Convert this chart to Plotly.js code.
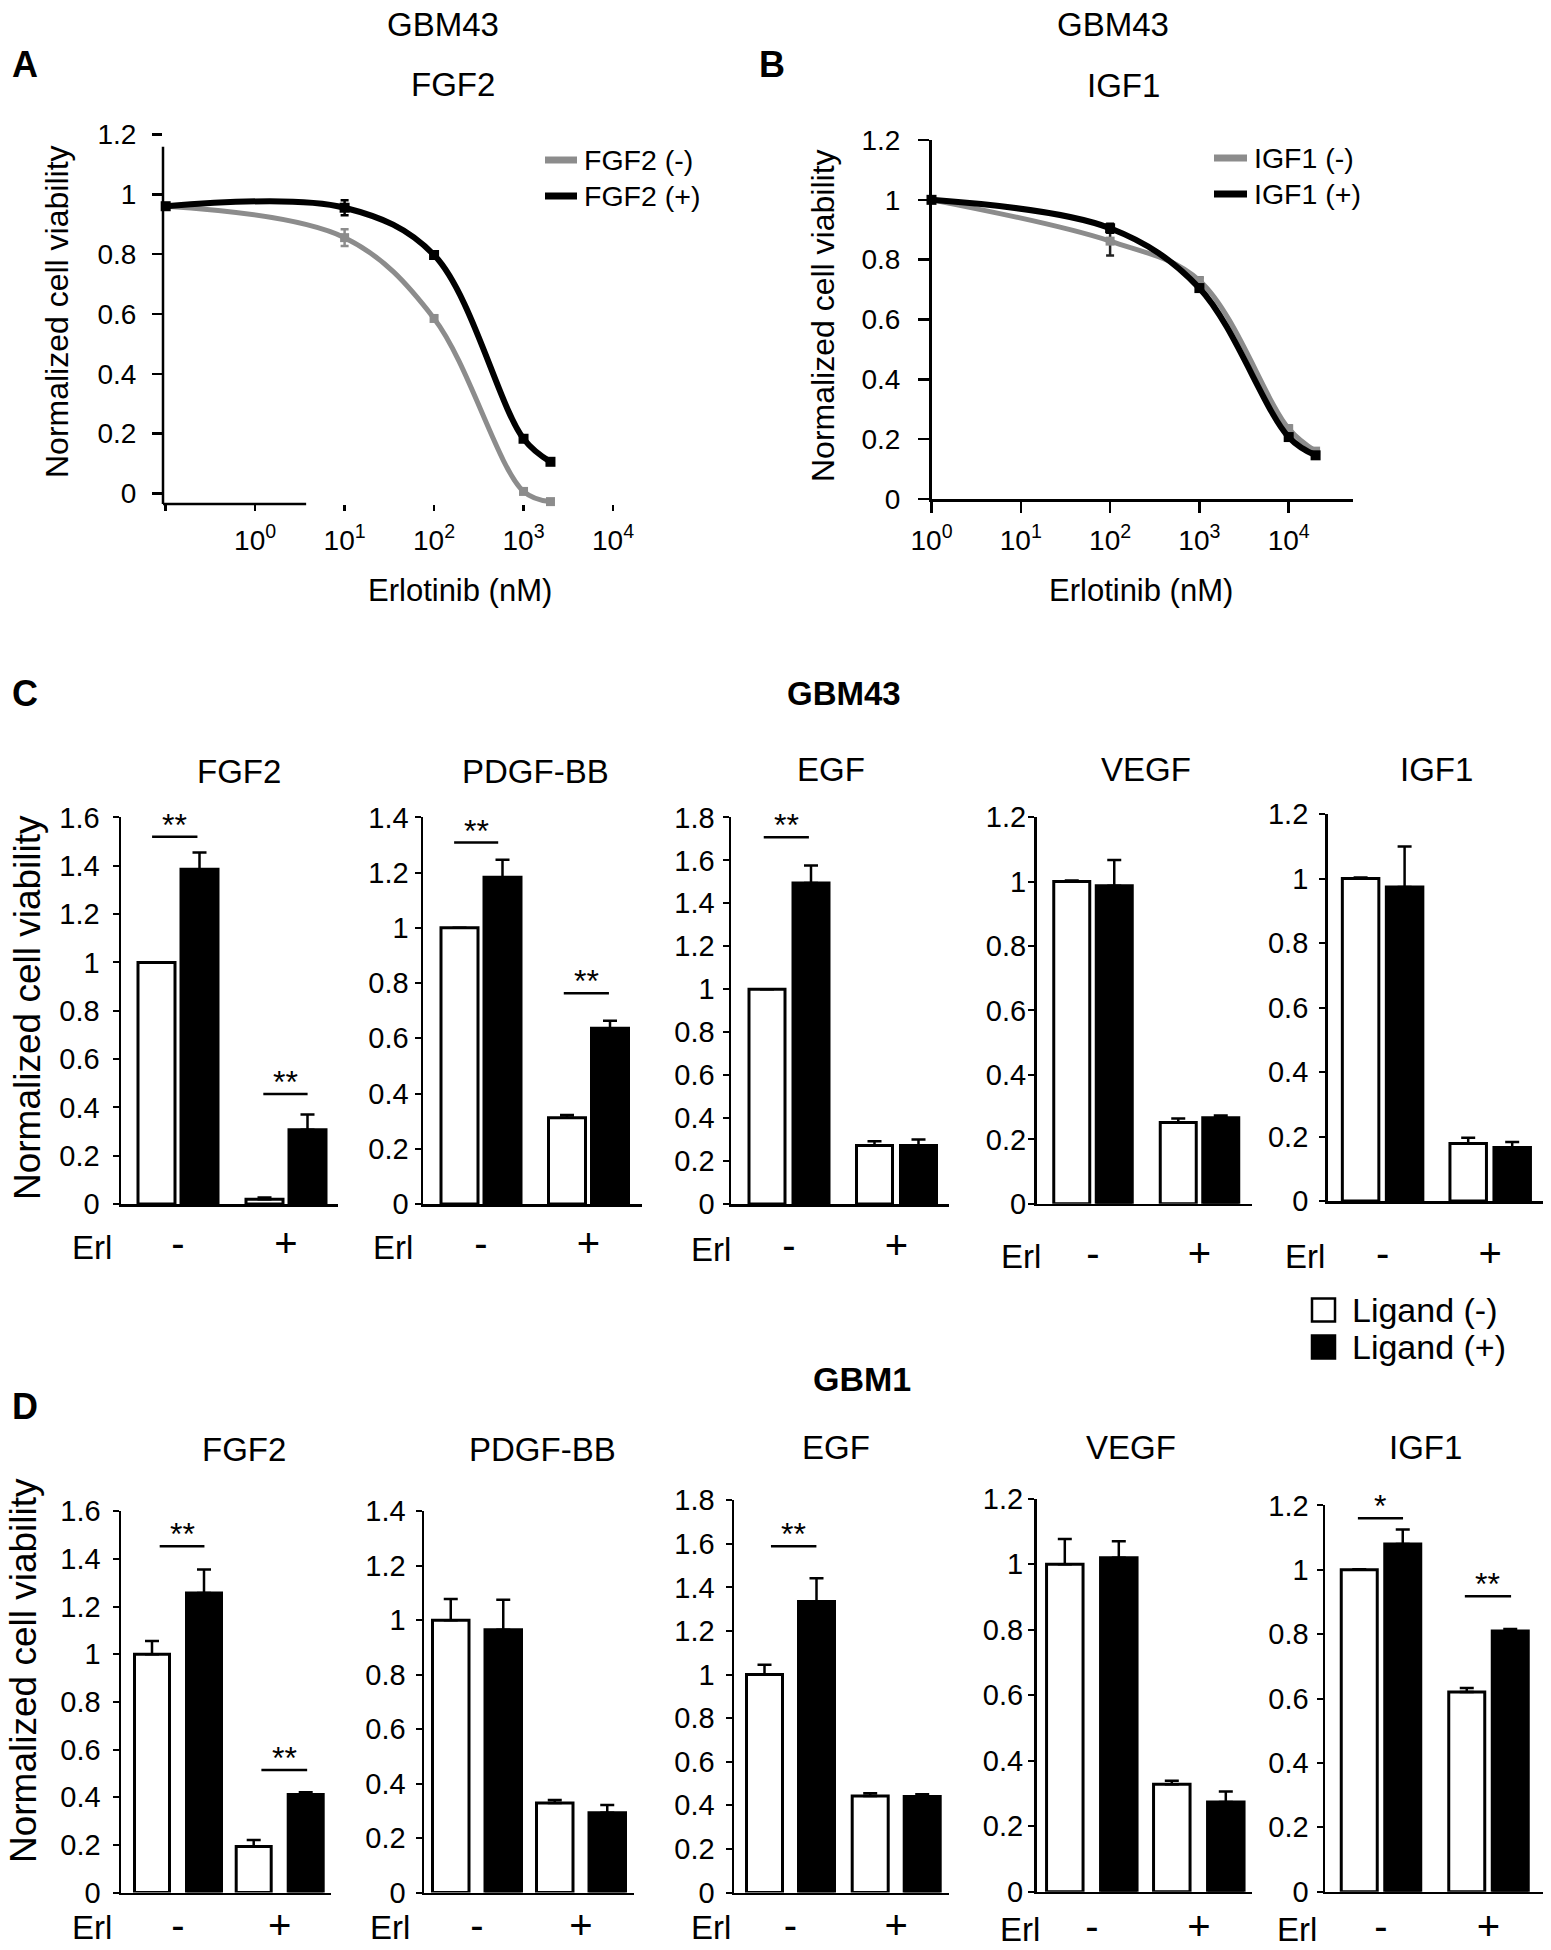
<!DOCTYPE html>
<html><head><meta charset="utf-8">
<script src="https://cdn.plot.ly/plotly-3.0.1.min.js"></script>
<style>html,body{margin:0;padding:0;background:#fff}#chart{width:1551px;height:1950px}</style>
</head><body><div id="chart"></div>
<script>
// ---------------- DATA ----------------
// Panel A: GBM43, FGF2, Erlotinib dose response
const doseA = [0.1, 10, 100, 1000, 2000];
const fgf2Minus = [0.96, 0.855, 0.585, 0.007, -0.027];
const fgf2MinusErr = [0.004, 0.028, 0.008, 0.008, 0.005];
const fgf2Plus = [0.96, 0.955, 0.797, 0.183, 0.106];
const fgf2PlusErr = [0.006, 0.025, 0.01, 0.01, 0.008];
// Panel B: GBM43, IGF1
const doseB = [1, 100, 1000, 10000, 20000];
const igf1Minus = [1.0, 0.862, 0.73, 0.235, 0.16];
const igf1MinusErr = [0.005, 0.048, 0.01, 0.01, 0.008];
const igf1Plus = [1.0, 0.905, 0.705, 0.207, 0.146];
const igf1PlusErr = [0.01, 0.015, 0.01, 0.01, 0.008];

// Panels C/D: ligands, Erl - / +
const ligands = ['FGF2', 'PDGF-BB', 'EGF', 'VEGF', 'IGF1'];
const erlLabels = ['-', '+'];
const yMaxByLigand = [1.6, 1.4, 1.8, 1.2, 1.2];
const yMaxGBM1 = [1.6, 1.4, 1.8, 1.2, 1.2];
// GBM43 (panel C)
const gbm43LigNegErlNeg = [1.0, 1.0, 1.0, 1.0, 1.0];
const gbm43LigNegErlNegErr = [0.0, 0.0, 0.0, 0.003, 0.003];
const gbm43LigPosErlNeg = [1.385, 1.183, 1.494, 0.987, 0.974];
const gbm43LigPosErlNegErr = [0.07, 0.064, 0.082, 0.08, 0.125];
const gbm43LigNegErlPos = [0.02, 0.312, 0.272, 0.252, 0.178];
const gbm43LigNegErlPosErr = [0.007, 0.01, 0.02, 0.013, 0.018];
const gbm43LigPosErlPos = [0.307, 0.636, 0.272, 0.267, 0.166];
const gbm43LigPosErlPosErr = [0.063, 0.028, 0.028, 0.007, 0.017];
// GBM1 (panel D)
const gbm1LigNegErlNeg = [1.0, 1.0, 1.0, 1.0, 1.0];
const gbm1LigNegErlNegErr = [0.055, 0.078, 0.045, 0.077, 0.002];
const gbm1LigPosErlNeg = [1.257, 0.965, 1.335, 1.02, 1.08];
const gbm1LigPosErlNegErr = [0.098, 0.11, 0.107, 0.05, 0.045];
const gbm1LigNegErlPos = [0.193, 0.329, 0.443, 0.328, 0.62];
const gbm1LigNegErlPosErr = [0.027, 0.011, 0.012, 0.011, 0.013];
const gbm1LigPosErlPos = [0.411, 0.293, 0.441, 0.274, 0.81];
const gbm1LigPosErlPosErr = [0.01, 0.028, 0.01, 0.032, 0.006];

// significance marks: panel index, group (0 = Erl -, 1 = Erl +), level, label
const sigC = [
  {p:0, g:0, y:1.52, t:'**', a:-0.24, b:0.18},
  {p:0, g:1, y:0.455, t:'**', a:-0.21, b:0.20},
  {p:1, g:0, y:1.309, t:'**', a:-0.25, b:0.16},
  {p:1, g:1, y:0.763, t:'**', a:-0.23, b:0.19},
  {p:2, g:0, y:1.708, t:'**', a:-0.235, b:0.185}
];
const sigD = [
  {p:0, g:0, y:1.453, t:'**', a:-0.18, b:0.26},
  {p:0, g:1, y:0.514, t:'**', a:-0.18, b:0.27},
  {p:2, g:0, y:1.589, t:'**', a:-0.185, b:0.245},
  {p:4, g:0, y:1.16, t:'*', a:-0.215, b:0.205},
  {p:4, g:1, y:0.918, t:'**', a:-0.22, b:0.21}
];

// ---------------- LAYOUT GEOMETRY (pixels) ----------------
const W = 1551, H = 1950;
const px = v => v / W;
const py = v => 1 - v / H;
const FONT = 'Liberation Sans, Arial, sans-serif';
const GREY = '#8c8c8c';
const geomC = [
  {L:121, R:338, top:817.4, bot:1204, c0:178, c1:286, w:37, g:6, lg:17, xs:2},
  {L:423, R:642, top:817.4, bot:1204, c0:481, c1:588.5, w:37, g:6, lg:10, xs:2},
  {L:731, R:949, top:817.4, bot:1204, c0:789, c1:896.5, w:36, g:8, lg:12, xs:4},
  {L:1036.5, R:1252, top:817.1, bot:1203.8, c0:1093, c1:1199.5, w:36, g:6.5, lg:6, xs:13},
  {L:1327.6, R:1543, top:814, bot:1201, c0:1382.6, c1:1490.2, w:36.5, g:7.5, lg:15, xs:15}
];
const geomD = [
  {L:121, R:331, top:1511.2, bot:1892.5, c0:178, c1:279.7, w:35, g:17, lg:16, xs:-4},
  {L:424, R:634, top:1511.2, bot:1892.5, c0:477, c1:581, w:36.5, g:16, lg:14, xs:-4},
  {L:734, R:949, top:1500.3, bot:1892.5, c0:790.5, c1:896.2, w:36, g:16, lg:15, xs:-4},
  {L:1036.5, R:1252, top:1498.8, bot:1891.7, c0:1091.8, c1:1198.8, w:36.5, g:17.5, lg:9, xs:-2},
  {L:1325, R:1543, top:1505.4, bot:1891.7, c0:1381, c1:1488.5, w:36, g:7.5, lg:12, xs:-2}
];
const titleC = [[239,771],[535,771],[830.6,769],[1146,769],[1436,769]];
const titleD = [[244,1449],[542,1449],[835.7,1447],[1131,1447],[1425,1447]];
const erlC = [[92,1247],[393,1247],[711,1249],[1021,1256],[1305,1256]];
const erlD = [[92,1927],[390,1927],[711,1927],[1020,1929],[1297,1929]];

const traces = [];
const shapes = [];
const annotations = [];
const layout = {
  width: W, height: H, margin: {l:0, r:0, t:0, b:0},
  paper_bgcolor: '#fff', plot_bgcolor: 'rgba(0,0,0,0)',
  showlegend: false, barmode: 'overlay',
  font: {family: FONT, color: '#000', size: 28}
};

function ann(text, x, y, size, opts) {
  annotations.push(Object.assign({text: text, x: px(x), y: py(y), xref: 'paper', yref: 'paper',
    xanchor: 'center', yanchor: 'middle', showarrow: false, font: {size: size, family: FONT, color: '#000'}}, opts || {}));
}

// ---------------- Panel A ----------------
function sup(v){ return '10<sup>' + v + '</sup>'; }
const yTicksAB = [0, 0.2, 0.4, 0.6, 0.8, 1, 1.2];
traces.push({type:'scatter', mode:'lines+markers', x: doseA, y: fgf2Minus, xaxis:'x', yaxis:'y', name:'FGF2 (-)',
  line:{color:GREY, width:5, shape:'spline', smoothing:1}, marker:{symbol:'square', size:9, color:GREY},
  error_y:{type:'data', array: fgf2MinusErr, color:GREY, thickness:2.5, width:4}, cliponaxis:false});
traces.push({type:'scatter', mode:'lines+markers', x: doseA, y: fgf2Plus, xaxis:'x', yaxis:'y', name:'FGF2 (+)',
  line:{color:'#000', width:6, shape:'spline', smoothing:1}, marker:{symbol:'square', size:10, color:'#000'},
  error_y:{type:'data', array: fgf2PlusErr, color:'#000', thickness:2.5, width:4}, cliponaxis:false});
layout.xaxis = {domain:[px(163), px(613)], range:[-1.03, 4.0], type:'log', anchor:'y', showline:false,
  ticks:'outside', ticklen:6, tickwidth:2.5, tickcolor:'#000', tickvals:[0.1,1,10,100,1000,10000],
  ticktext:['', sup(0), sup(1), sup(2), sup(3), sup(4)], tickfont:{size:28}, showgrid:false, zeroline:false,
  ticklabelstandoff: 5, fixedrange:true};
layout.yaxis = {domain:[py(504), py(134.4)], range:[-0.035, 1.2], anchor:'x', showline:false,
  ticks:'outside', ticklen:10, tickwidth:2.5, tickcolor:'#000', tickvals: yTicksAB, tickfont:{size:28},
  showgrid:false, zeroline:false, ticklabelstandoff: 10, fixedrange:true};
shapes.push({type:'line', xref:'x', yref:'y domain', x0:-1.03, x1:3.715, y0:0, y1:0, line:{color:'#000', width:2.5}});
shapes.push({type:'line', xref:'x domain', yref:'y', x0:0, x1:0, y0:-0.035, y1:1.159, line:{color:'#000', width:2.5}});

// ---------------- Panel B ----------------
traces.push({type:'scatter', mode:'lines+markers', x: doseB, y: igf1Minus, xaxis:'x2', yaxis:'y2', name:'IGF1 (-)',
  line:{color:GREY, width:5, shape:'spline', smoothing:1}, marker:{symbol:'square', size:9, color:GREY},
  error_y:{type:'data', array: igf1MinusErr, color:'#222', thickness:2.5, width:4}, cliponaxis:false});
traces.push({type:'scatter', mode:'lines+markers', x: doseB, y: igf1Plus, xaxis:'x2', yaxis:'y2', name:'IGF1 (+)',
  line:{color:'#000', width:6, shape:'spline', smoothing:1}, marker:{symbol:'square', size:10, color:'#000'},
  error_y:{type:'data', array: igf1PlusErr, color:'#000', thickness:2.5, width:4}, cliponaxis:false});
layout.xaxis2 = {domain:[px(931.5), px(1353)], range:[0, 4.72], type:'log', anchor:'y2', showline:true, linewidth:2.5, linecolor:'#000',
  ticks:'outside', ticklen:11, tickwidth:2.5, tickcolor:'#000', tickvals:[1,10,100,1000,10000],
  ticktext:[sup(0), sup(1), sup(2), sup(3), sup(4)], tickfont:{size:28}, showgrid:false, zeroline:false,
  ticklabelstandoff: 4, fixedrange:true};
layout.yaxis2 = {domain:[py(499), py(140)], range:[0, 1.2], anchor:'x2', showline:true, linewidth:2.5, linecolor:'#000',
  ticks:'outside', ticklen:11, tickwidth:2.5, tickcolor:'#000', tickvals: yTicksAB, tickfont:{size:28},
  showgrid:false, zeroline:false, ticklabelstandoff: 12, fixedrange:true};

// A/B texts
ann('<b>A</b>', 25, 65, 36);
ann('<b>B</b>', 772, 65, 36);
ann('GBM43', 443, 24, 33);
ann('FGF2', 453, 85, 33);
ann('GBM43', 1113, 24, 33);
ann('IGF1', 1123, 86, 33);
ann('Erlotinib (nM)', 460, 591, 31);
ann('Erlotinib (nM)', 1141, 591, 31);
ann('Normalized cell viability', 57, 312, 32, {textangle:-90});
ann('Normalized cell viability', 823, 316, 32, {textangle:-90});
// line legends
function lineLegend(x0, x1, y, color, text) {
  shapes.push({type:'line', xref:'paper', yref:'paper', x0:px(x0), x1:px(x1), y0:py(y), y1:py(y), line:{color:color, width:7}});
  ann(text, x1 + 5, y, 28.5, {xanchor:'left'});
}
lineLegend(545, 577, 160, GREY, 'FGF2 (-)');
lineLegend(545, 577, 196, '#000', 'FGF2 (+)');
lineLegend(1214, 1247, 158, GREY, 'IGF1 (-)');
lineLegend(1214, 1247, 194, '#000', 'IGF1 (+)');

// ---------------- Panels C / D (bars) ----------------
function yTickVals(ymax){ const v=[]; for(let k=0;k<=Math.round(ymax*5);k++) v.push(Math.round(k*2)/10); return v; }

function barPanel(axisNum, geo, ymax, negVals, negErr, posVals, posErr) {
  const xa = 'x' + axisNum, ya = 'y' + axisNum;
  const unit = geo.c1 - geo.c0;
  const bw = geo.w / unit;
  traces.push({type:'bar', x:[0,1], y:negVals, xaxis:xa, yaxis:ya, name:'Ligand (-)',
    width:[bw,bw], offset:[-(geo.w + geo.g/2)/unit, -(geo.w + geo.g/2)/unit],
    marker:{color:'#fff', line:{color:'#000', width:3}},
    error_y:{type:'data', symmetric:false, array:negErr, arrayminus:[0,0], color:'#000', thickness:2.5, width:7}});
  traces.push({type:'bar', x:[0,1], y:posVals, xaxis:xa, yaxis:ya, name:'Ligand (+)',
    width:[bw,bw], offset:[(geo.g/2)/unit, (geo.g/2)/unit],
    marker:{color:'#000', line:{color:'#000', width:3}},
    error_y:{type:'data', symmetric:false, array:posErr, arrayminus:[0,0], color:'#000', thickness:2.5, width:7}});
  layout['xaxis' + axisNum] = {domain:[px(geo.L), px(geo.R)], range:[(geo.L - geo.c0)/unit, (geo.R - geo.c0)/unit],
    anchor: ya, tickvals:[0,1], ticktext: erlLabels, ticks:'', showline:true, linewidth:2.5, linecolor:'#000',
    showgrid:false, zeroline:false, tickfont:{size:40}, ticklabelstandoff: geo.xs, fixedrange:true};
  layout['yaxis' + axisNum] = {domain:[py(geo.bot), py(geo.top)], range:[0, ymax], anchor: xa,
    tickvals: yTickVals(ymax), ticks:'outside', ticklen:6, tickwidth:2, tickcolor:'#000',
    showline:true, linewidth:2.5, linecolor:'#000', showgrid:false, zeroline:false,
    tickfont:{size:29}, ticklabelstandoff: Math.round(geo.lg - 10), fixedrange:true};
}

for (let i = 0; i < 5; i++) {
  barPanel(3 + i, geomC[i], yMaxByLigand[i],
    [gbm43LigNegErlNeg[i], gbm43LigNegErlPos[i]], [gbm43LigNegErlNegErr[i], gbm43LigNegErlPosErr[i]],
    [gbm43LigPosErlNeg[i], gbm43LigPosErlPos[i]], [gbm43LigPosErlNegErr[i], gbm43LigPosErlPosErr[i]]);
  barPanel(8 + i, geomD[i], yMaxGBM1[i],
    [gbm1LigNegErlNeg[i], gbm1LigNegErlPos[i]], [gbm1LigNegErlNegErr[i], gbm1LigNegErlPosErr[i]],
    [gbm1LigPosErlNeg[i], gbm1LigPosErlPos[i]], [gbm1LigPosErlNegErr[i], gbm1LigPosErlPosErr[i]]);
  ann(ligands[i], titleC[i][0], titleC[i][1], 33);
  ann(ligands[i], titleD[i][0], titleD[i][1], 33);
  ann('Erl', erlC[i][0], erlC[i][1], 33);
  ann('Erl', erlD[i][0], erlD[i][1], 33);
}

function addSig(list, baseAxis) {
  list.forEach(s => {
    const n = baseAxis + s.p;
    shapes.push({type:'line', xref:'x' + n, yref:'y' + n, x0: s.g + s.a, x1: s.g + s.b, y0: s.y, y1: s.y,
      line:{color:'#000', width:2.5}});
    annotations.push({text: s.t, x: s.g + (s.a + s.b)/2, y: s.y, xref:'x' + n, yref:'y' + n,
      xanchor:'center', yanchor:'bottom', yshift:-8, showarrow:false, font:{size:32, family:FONT, color:'#000'}});
  });
}
addSig(sigC, 3);
addSig(sigD, 8);

ann('<b>C</b>', 25, 694, 36);
ann('<b>D</b>', 25, 1406, 36);
ann('<b>GBM43</b>', 844, 693, 33);
ann('<b>GBM1</b>', 862, 1379, 34);
ann('Normalized cell viability', 27, 1008, 37, {textangle:-90});
ann('Normalized cell viability', 23, 1671, 37, {textangle:-90});

// bar legend
function boxLegend(y, fill, text) {
  shapes.push({type:'rect', xref:'paper', yref:'paper', x0:px(1312), x1:px(1335), y0:py(y + 11.5), y1:py(y - 11.5),
    fillcolor: fill, line:{color:'#000', width:2.5}});
  ann(text, 1350, y, 34, {xanchor:'left'});
}
boxLegend(1310, '#fff', 'Ligand (-)');
boxLegend(1347, '#000', 'Ligand (+)');

layout.shapes = shapes;
layout.annotations = annotations;
Plotly.newPlot('chart', traces, layout, {staticPlot:true, displayModeBar:false});
</script></body></html>
